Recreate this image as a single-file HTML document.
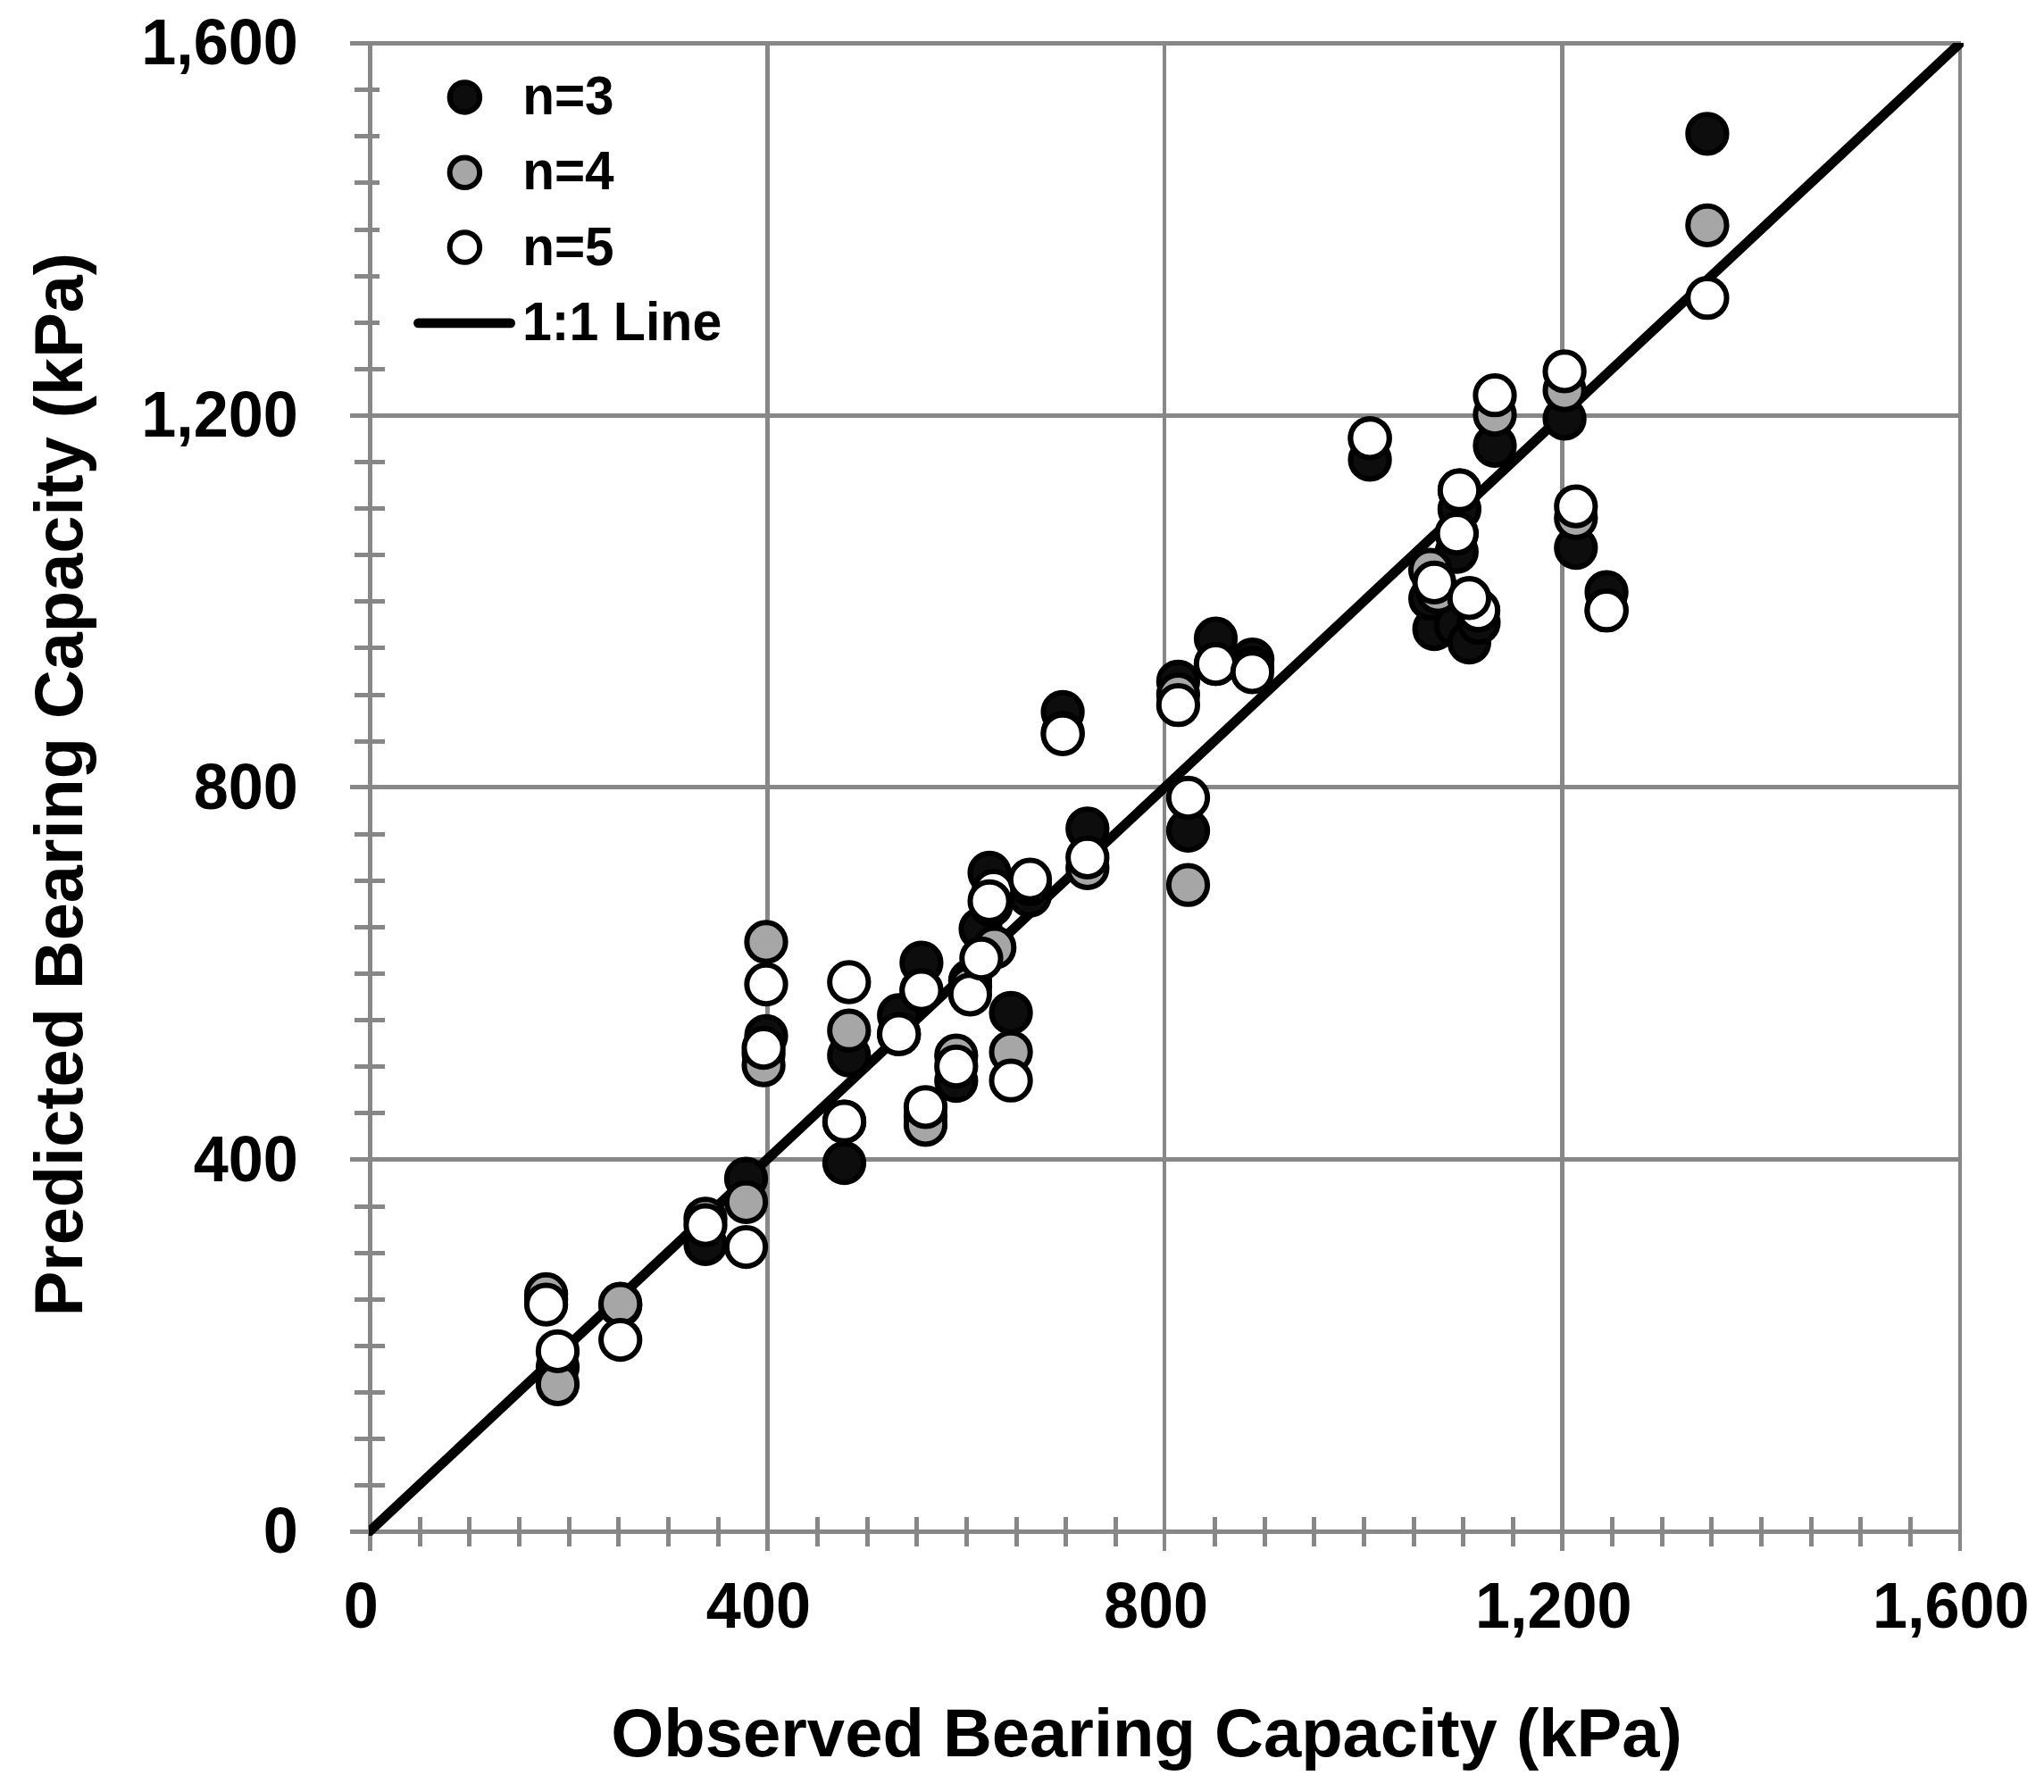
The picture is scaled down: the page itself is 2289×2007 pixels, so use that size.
<!DOCTYPE html>
<html lang="en"><head><meta charset="utf-8"><title>Predicted vs Observed Bearing Capacity</title>
<style>html,body{margin:0;padding:0;background:#fff;}body{width:2289px;height:2007px;overflow:hidden;}svg{display:block;}text{font-family:"Liberation Sans",Arial,Helvetica,sans-serif;font-weight:bold;fill:#000;}</style>
</head><body>
<svg width="2289" height="2007" viewBox="0 0 2289 2007">
<rect x="0" y="0" width="2289" height="2007" fill="#fff"/>
<g fill="#878787" shape-rendering="crispEdges">
<rect x="392" y="1713.0" width="1804.0" height="5"/>
<rect x="392" y="1296.0" width="1804.0" height="5"/>
<rect x="392" y="879.0" width="1804.0" height="5"/>
<rect x="392" y="463.0" width="1804.0" height="5"/>
<rect x="392" y="46.0" width="1804.0" height="5"/>
<rect x="412" y="46" width="5" height="1691"/>
<rect x="857" y="46" width="5" height="1691"/>
<rect x="1302" y="46" width="4" height="1691"/>
<rect x="1747" y="46" width="5" height="1691"/>
<rect x="2193" y="48" width="4" height="1689"/>
<rect x="397" y="1661" width="34" height="5"/>
<rect x="397" y="1609" width="34" height="5"/>
<rect x="397" y="1557" width="34" height="5"/>
<rect x="397" y="1505" width="34" height="5"/>
<rect x="397" y="1453" width="34" height="5"/>
<rect x="397" y="1401" width="34" height="5"/>
<rect x="397" y="1349" width="34" height="5"/>
<rect x="397" y="1244" width="34" height="5"/>
<rect x="397" y="1192" width="34" height="5"/>
<rect x="397" y="1140" width="34" height="5"/>
<rect x="397" y="1088" width="34" height="5"/>
<rect x="397" y="1036" width="34" height="5"/>
<rect x="397" y="984" width="34" height="5"/>
<rect x="397" y="932" width="34" height="5"/>
<rect x="397" y="828" width="34" height="5"/>
<rect x="397" y="776" width="34" height="5"/>
<rect x="397" y="723" width="34" height="5"/>
<rect x="397" y="671" width="34" height="5"/>
<rect x="397" y="619" width="34" height="5"/>
<rect x="397" y="567" width="34" height="5"/>
<rect x="397" y="515" width="34" height="5"/>
<rect x="397" y="411" width="34" height="5"/>
<rect x="397" y="359" width="34" height="5"/>
<rect x="397" y="307" width="34" height="5"/>
<rect x="397" y="255" width="34" height="5"/>
<rect x="397" y="202" width="34" height="5"/>
<rect x="397" y="150" width="34" height="5"/>
<rect x="397" y="98" width="34" height="5"/>
<rect x="468" y="1699" width="5" height="33"/>
<rect x="523" y="1699" width="5" height="33"/>
<rect x="579" y="1699" width="5" height="33"/>
<rect x="635" y="1699" width="5" height="33"/>
<rect x="690" y="1699" width="5" height="33"/>
<rect x="746" y="1699" width="5" height="33"/>
<rect x="802" y="1699" width="5" height="33"/>
<rect x="913" y="1699" width="5" height="33"/>
<rect x="969" y="1699" width="5" height="33"/>
<rect x="1024" y="1699" width="5" height="33"/>
<rect x="1080" y="1699" width="5" height="33"/>
<rect x="1136" y="1699" width="5" height="33"/>
<rect x="1191" y="1699" width="5" height="33"/>
<rect x="1247" y="1699" width="5" height="33"/>
<rect x="1358" y="1699" width="5" height="33"/>
<rect x="1414" y="1699" width="5" height="33"/>
<rect x="1469" y="1699" width="5" height="33"/>
<rect x="1525" y="1699" width="5" height="33"/>
<rect x="1581" y="1699" width="5" height="33"/>
<rect x="1636" y="1699" width="5" height="33"/>
<rect x="1692" y="1699" width="5" height="33"/>
<rect x="1803" y="1699" width="5" height="33"/>
<rect x="1859" y="1699" width="5" height="33"/>
<rect x="1914" y="1699" width="5" height="33"/>
<rect x="1970" y="1699" width="5" height="33"/>
<rect x="2026" y="1699" width="5" height="33"/>
<rect x="2081" y="1699" width="5" height="33"/>
<rect x="2137" y="1699" width="5" height="33"/>
</g>
<clipPath id="pc"><rect x="413" y="48" width="1786" height="1672"/></clipPath>
<line x1="384.5" y1="1742.57" x2="2225.0" y2="20.33" stroke="#000" stroke-width="10.9" clip-path="url(#pc)"/>
<rect x="425" y="60" width="400" height="335" fill="#fff"/>
<g fill="#0d0d0d" stroke="#000" stroke-width="6">
<circle cx="611.6" cy="1455.0" r="21.65"/>
<circle cx="624.5" cy="1531.3" r="21.65"/>
<circle cx="694.7" cy="1462.0" r="21.65"/>
<circle cx="790.0" cy="1393.4" r="21.65"/>
<circle cx="835.5" cy="1320.1" r="21.65"/>
<circle cx="858.0" cy="1160.3" r="21.65"/>
<circle cx="855.1" cy="1180.0" r="21.65"/>
<circle cx="950.8" cy="1182.0" r="21.65"/>
<circle cx="945.5" cy="1302.6" r="21.65"/>
<circle cx="1006.7" cy="1137.0" r="21.65"/>
<circle cx="1031.9" cy="1078.2" r="21.65"/>
<circle cx="1036.5" cy="1250.0" r="21.65"/>
<circle cx="1070.8" cy="1210.6" r="21.65"/>
<circle cx="1132.1" cy="1134.3" r="21.65"/>
<circle cx="1086.4" cy="1098.5" r="21.65"/>
<circle cx="1098.1" cy="1040.5" r="21.65"/>
<circle cx="1108.1" cy="977.5" r="21.65"/>
<circle cx="1153.3" cy="1003.1" r="21.65"/>
<circle cx="1190.1" cy="797.4" r="21.65"/>
<circle cx="1319.4" cy="763.3" r="21.65"/>
<circle cx="1361.5" cy="715.1" r="21.65"/>
<circle cx="1402.6" cy="738.6" r="21.65"/>
<circle cx="1330.5" cy="930.4" r="21.65"/>
<circle cx="1217.8" cy="928.0" r="21.65"/>
<circle cx="1534.1" cy="514.9" r="21.65"/>
<circle cx="1674.0" cy="499.3" r="21.65"/>
<circle cx="1752.1" cy="468.9" r="21.65"/>
<circle cx="1634.4" cy="570.5" r="21.65"/>
<circle cx="1631.3" cy="618.0" r="21.65"/>
<circle cx="1606.2" cy="704.5" r="21.65"/>
<circle cx="1601.7" cy="670.4" r="21.65"/>
<circle cx="1630.3" cy="700.5" r="21.65"/>
<circle cx="1645.4" cy="719.6" r="21.65"/>
<circle cx="1655.9" cy="697.5" r="21.65"/>
<circle cx="1764.8" cy="613.6" r="21.65"/>
<circle cx="1799.1" cy="663.2" r="21.65"/>
<circle cx="1911.9" cy="149.8" r="21.65"/>
</g>
<g fill="#a6a6a6" stroke="#000" stroke-width="6">
<circle cx="611.6" cy="1449.4" r="21.65"/>
<circle cx="624.5" cy="1550.3" r="21.65"/>
<circle cx="694.7" cy="1460.2" r="21.65"/>
<circle cx="790.0" cy="1364.8" r="21.65"/>
<circle cx="835.5" cy="1346.3" r="21.65"/>
<circle cx="858.0" cy="1055.0" r="21.65"/>
<circle cx="855.1" cy="1193.1" r="21.65"/>
<circle cx="950.8" cy="1154.2" r="21.65"/>
<circle cx="945.5" cy="1256.2" r="21.65"/>
<circle cx="1006.7" cy="1158.2" r="21.65"/>
<circle cx="1031.9" cy="1109.1" r="21.65"/>
<circle cx="1036.5" cy="1259.8" r="21.65"/>
<circle cx="1070.8" cy="1182.2" r="21.65"/>
<circle cx="1132.1" cy="1178.3" r="21.65"/>
<circle cx="1086.5" cy="1104.8" r="21.65"/>
<circle cx="1113.7" cy="1061.2" r="21.65"/>
<circle cx="1110.0" cy="1014.0" r="21.65"/>
<circle cx="1153.4" cy="990.2" r="21.65"/>
<circle cx="1190.1" cy="820.8" r="21.65"/>
<circle cx="1319.4" cy="777.7" r="21.65"/>
<circle cx="1361.5" cy="743.6" r="21.65"/>
<circle cx="1402.5" cy="748.0" r="21.65"/>
<circle cx="1330.5" cy="991.2" r="21.65"/>
<circle cx="1217.8" cy="972.4" r="21.65"/>
<circle cx="1534.1" cy="490.8" r="21.65"/>
<circle cx="1674.0" cy="464.5" r="21.65"/>
<circle cx="1752.1" cy="437.1" r="21.65"/>
<circle cx="1634.5" cy="549.2" r="21.65"/>
<circle cx="1631.3" cy="597.6" r="21.65"/>
<circle cx="1601.6" cy="638.2" r="21.65"/>
<circle cx="1610.2" cy="663.0" r="21.65"/>
<circle cx="1655.5" cy="683.6" r="21.65"/>
<circle cx="1645.4" cy="669.9" r="21.65"/>
<circle cx="1764.8" cy="580.3" r="21.65"/>
<circle cx="1799.1" cy="683.7" r="21.65"/>
<circle cx="1911.9" cy="252.3" r="21.65"/>
</g>
<g fill="#ffffff" stroke="#000" stroke-width="6">
<circle cx="611.6" cy="1461.1" r="21.65"/>
<circle cx="624.5" cy="1513.3" r="21.65"/>
<circle cx="694.7" cy="1500.6" r="21.65"/>
<circle cx="790.0" cy="1372.1" r="21.65"/>
<circle cx="835.5" cy="1396.6" r="21.65"/>
<circle cx="858.0" cy="1102.5" r="21.65"/>
<circle cx="855.1" cy="1173.6" r="21.65"/>
<circle cx="950.8" cy="1100.0" r="21.65"/>
<circle cx="945.5" cy="1256.2" r="21.65"/>
<circle cx="1006.7" cy="1158.2" r="21.65"/>
<circle cx="1031.9" cy="1109.1" r="21.65"/>
<circle cx="1036.5" cy="1239.8" r="21.65"/>
<circle cx="1070.8" cy="1194.5" r="21.65"/>
<circle cx="1132.1" cy="1210.2" r="21.65"/>
<circle cx="1086.4" cy="1113.8" r="21.65"/>
<circle cx="1098.9" cy="1073.5" r="21.65"/>
<circle cx="1112.6" cy="997.6" r="21.65"/>
<circle cx="1108.1" cy="1009.3" r="21.65"/>
<circle cx="1153.5" cy="985.1" r="21.65"/>
<circle cx="1190.1" cy="822.3" r="21.65"/>
<circle cx="1319.4" cy="789.7" r="21.65"/>
<circle cx="1361.5" cy="743.6" r="21.65"/>
<circle cx="1402.4" cy="752.8" r="21.65"/>
<circle cx="1330.5" cy="893.5" r="21.65"/>
<circle cx="1217.8" cy="960.4" r="21.65"/>
<circle cx="1534.1" cy="490.8" r="21.65"/>
<circle cx="1674.0" cy="442.7" r="21.65"/>
<circle cx="1752.1" cy="415.9" r="21.65"/>
<circle cx="1634.5" cy="549.2" r="21.65"/>
<circle cx="1631.3" cy="597.6" r="21.65"/>
<circle cx="1606.2" cy="652.3" r="21.65"/>
<circle cx="1655.5" cy="683.6" r="21.65"/>
<circle cx="1645.4" cy="669.9" r="21.65"/>
<circle cx="1764.8" cy="567.1" r="21.65"/>
<circle cx="1799.1" cy="683.7" r="21.65"/>
<circle cx="1911.9" cy="333.7" r="21.65"/>
</g>
<g stroke="#000" stroke-width="6">
<circle cx="520.4" cy="108.9" r="16.75" fill="#0d0d0d"/>
<circle cx="520.4" cy="193.3" r="16.75" fill="#a6a6a6"/>
<circle cx="520.4" cy="277.0" r="16.75" fill="#fff"/>
</g>
<line x1="468.5" y1="361.9" x2="571.6" y2="361.9" stroke="#000" stroke-width="10.8" stroke-linecap="round"/>
<text transform="translate(585.2,128.0) scale(1,1.04)" font-size="58.5" text-anchor="start">n=3</text>
<text transform="translate(585.2,211.7) scale(1,1.04)" font-size="58.5" text-anchor="start">n=4</text>
<text transform="translate(585.2,296.8) scale(1,1.04)" font-size="58.5" text-anchor="start">n=5</text>
<text transform="translate(585.0,380.9) scale(1,1.04)" font-size="59.1" text-anchor="start">1:1 Line</text>
<text transform="translate(333.8,72.2) scale(1,1.04)" font-size="70.2" text-anchor="end">1,600</text>
<text transform="translate(333.8,489.0) scale(1,1.04)" font-size="70.2" text-anchor="end">1,200</text>
<text transform="translate(333.8,905.7) scale(1,1.04)" font-size="70.2" text-anchor="end">800</text>
<text transform="translate(333.8,1322.5) scale(1,1.04)" font-size="70.2" text-anchor="end">400</text>
<text transform="translate(333.8,1739.2) scale(1,1.04)" font-size="70.2" text-anchor="end">0</text>
<text transform="translate(404.3,1823.0) scale(1,1.04)" font-size="70.2" text-anchor="middle">0</text>
<text transform="translate(849.4,1823.0) scale(1,1.04)" font-size="70.2" text-anchor="middle">400</text>
<text transform="translate(1294.5,1823.0) scale(1,1.04)" font-size="70.2" text-anchor="middle">800</text>
<text transform="translate(1739.7,1823.0) scale(1,1.04)" font-size="70.2" text-anchor="middle">1,200</text>
<text transform="translate(2184.8,1823.0) scale(1,1.04)" font-size="70.2" text-anchor="middle">1,600</text>
<text transform="translate(1284.0,1966.7) scale(1,1.0)" font-size="76" text-anchor="middle">Observed Bearing Capacity (kPa)</text>
<text transform="translate(92.0,878.6) rotate(-90) scale(1,1.0)" font-size="75.75" text-anchor="middle">Predicted Bearing Capacity (kPa)</text>
</svg>
</body></html>
